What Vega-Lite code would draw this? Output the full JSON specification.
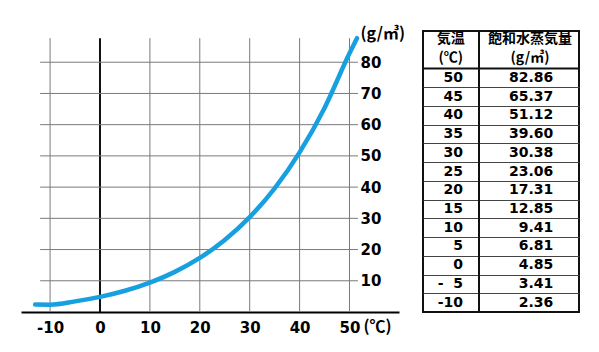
{
  "$schema": "https://vega.github.io/schema/vega-lite/v6.json",
  "background": "white",
  "autosize": {"type": "pad"},
  "padding": {"left": 21, "top": 25, "right": 0, "bottom": 0},
  "spacing": 24,
  "bounds": "flush",
  "config": {"view": {"stroke": null}, "font": "DejaVu Sans"},
  "datasets": {
    "table": [
      {"temp": 50, "label": "50", "sat": 82.86},
      {"temp": 45, "label": "45", "sat": 65.37},
      {"temp": 40, "label": "40", "sat": 51.12},
      {"temp": 35, "label": "35", "sat": 39.60},
      {"temp": 30, "label": "30", "sat": 30.38},
      {"temp": 25, "label": "25", "sat": 23.06},
      {"temp": 20, "label": "20", "sat": 17.31},
      {"temp": 15, "label": "15", "sat": 12.85},
      {"temp": 10, "label": "10", "sat": 9.41},
      {"temp": 5, "label": "5", "sat": 6.81},
      {"temp": 0, "label": "0", "sat": 4.85},
      {"temp": -5, "label": "-\u20075", "sat": 3.41},
      {"temp": -10, "label": "-10", "sat": 2.36}
    ],
    "header": [
      {"col": 17.8, "line": 60.4, "text": "気温"},
      {"col": 17.8, "line": 55.3, "text": "(℃)"},
      {"col": 68.6, "line": 60.4, "text": "飽和水蒸気量"},
      {"col": 68.6, "line": 55.3, "text": "(g/㎥)"}
    ],
    "curve": [
      {"temp": -13, "sat": 2.4},
      {"temp": -10, "sat": 2.36},
      {"temp": -5, "sat": 3.41},
      {"temp": 0, "sat": 4.85},
      {"temp": 5, "sat": 6.81},
      {"temp": 10, "sat": 9.41},
      {"temp": 15, "sat": 12.85},
      {"temp": 20, "sat": 17.31},
      {"temp": 25, "sat": 23.06},
      {"temp": 30, "sat": 30.38},
      {"temp": 35, "sat": 39.60},
      {"temp": 40, "sat": 51.12},
      {"temp": 45, "sat": 65.37},
      {"temp": 50, "sat": 82.86},
      {"temp": 51.5, "sat": 87.7}
    ],
    "xgrid": [{"t": -10}, {"t": 0}, {"t": 10}, {"t": 20}, {"t": 30}, {"t": 40}, {"t": 50}],
    "ygrid": [{"v": 10}, {"v": 20}, {"v": 30}, {"v": 40}, {"v": 50}, {"v": 60}, {"v": 70}, {"v": 80}],
    "one": [{"k": 1}]
  },
  "hconcat": [
    {
      "width": 378,
      "height": 281,
      "view": {"stroke": null},
      "layer": [
        {
          "data": {"name": "xgrid"},
          "mark": {"type": "rule"},
          "encoding": {
            "x": {
              "field": "t", "type": "quantitative",
              "scale": {"domain": [-15.83, 59.92], "nice": false, "zero": false},
              "axis": {
                "orient": "bottom", "values": [-10, 0, 10, 20, 30, 40, 50], "tickCount": 20,
                "labelExpr": "datum.value < 0 ? '-' + abs(datum.value) : datum.label",
                "grid": false, "ticks": false, "domain": true,
                "domainColor": "black", "domainWidth": 2,
                "labelFont": "DejaVu Sans", "labelFontSize": 15, "labelFontWeight": "bold",
                "labelColor": "black", "labelPadding": 8, "labelFlush": false,
                "title": null
              }
            },
            "y": {"datum": 0, "type": "quantitative"},
            "y2": {"datum": 87.7},
            "color": {"condition": {"test": "datum.t == 0", "value": "#111111"}, "value": "#7a7a7a"},
            "strokeWidth": {"condition": {"test": "datum.t == 0", "value": 2}, "value": 1}
          }
        },
        {
          "data": {"name": "ygrid"},
          "mark": {"type": "rule", "color": "#7a7a7a", "strokeWidth": 1},
          "encoding": {
            "y": {
              "field": "v", "type": "quantitative",
              "scale": {"domain": [0, 90], "nice": false, "zero": false},
              "axis": {
                "orient": "right", "offset": -41, "values": [10, 20, 30, 40, 50, 60, 70, 80], "tickCount": 20,
                "grid": false, "ticks": false, "domain": false,
                "labelFont": "DejaVu Sans", "labelFontSize": 15, "labelFontWeight": "bold",
                "labelColor": "black", "labelPadding": 2, "labelFlush": false, "labelBaseline": "middle",
                "title": "(g/㎥)", "titleAngle": 0, "titleX": 2, "titleY": 2,
                "titleAlign": "left", "titleBaseline": "middle",
                "titleFont": "Noto Sans CJK JP", "titleFontSize": 16, "titleFontWeight": "bold", "titleColor": "black"
              }
            },
            "x": {"datum": -12, "type": "quantitative"},
            "x2": {"datum": 51.7}
          }
        },
        {
          "data": {"name": "curve"},
          "mark": {"type": "line", "interpolate": "monotone", "color": "#17a0e0", "strokeWidth": 4.5, "strokeCap": "round"},
          "encoding": {
            "x": {"field": "temp", "type": "quantitative"},
            "y": {"field": "sat", "type": "quantitative"}
          }
        },
        {
          "data": {"name": "one"},
          "mark": {"type": "text", "align": "left", "baseline": "middle", "font": "Noto Sans CJK JP", "fontSize": 16, "fontWeight": "bold", "color": "black"},
          "encoding": {
            "x": {"datum": 52.8, "type": "quantitative"},
            "y": {"datum": -4.74, "type": "quantitative"},
            "text": {"value": "(℃)"}
          }
        }
      ]
    },
    {
      "width": 156,
      "height": 281,
      "view": {"stroke": "#111111", "strokeWidth": 2},
      "layer": [
        {
          "data": {"name": "table"},
          "mark": {"type": "text", "align": "right", "baseline": "middle", "font": "DejaVu Sans", "fontSize": 14, "fontWeight": "bold", "color": "black"},
          "encoding": {
            "x": {"datum": 25.6, "type": "quantitative", "scale": {"domain": [0, 100], "nice": false, "zero": false}, "axis": null},
            "y": {
              "field": "temp", "type": "quantitative",
              "scale": {"domain": [-12.5, 62.5], "nice": false, "zero": false},
              "axis": {
                "values": [-7.5, -2.5, 2.5, 7.5, 12.5, 17.5, 22.5, 27.5, 32.5, 37.5, 42.5, 47.5], "tickCount": 40,
                "grid": true, "gridColor": "#444444", "gridWidth": 1, "gridOpacity": 1,
                "labels": false, "ticks": false, "domain": false, "title": null
              }
            },
            "text": {"field": "label"}
          }
        },
        {
          "data": {"name": "table"},
          "mark": {"type": "text", "align": "right", "baseline": "middle", "font": "DejaVu Sans", "fontSize": 14, "fontWeight": "bold", "color": "black"},
          "encoding": {
            "x": {"datum": 83.5, "type": "quantitative"},
            "y": {"field": "temp", "type": "quantitative"},
            "text": {"field": "sat", "type": "quantitative", "format": ".2f"}
          }
        },
        {
          "data": {"name": "one"},
          "mark": {"type": "rule", "color": "#111111", "strokeWidth": 2},
          "encoding": {"y": {"datum": 52.5, "type": "quantitative"}}
        },
        {
          "data": {"name": "one"},
          "mark": {"type": "rule", "color": "#111111", "strokeWidth": 2},
          "encoding": {"x": {"datum": 35.9, "type": "quantitative"}}
        },
        {
          "data": {"name": "header"},
          "mark": {"type": "text", "align": "center", "baseline": "middle", "font": "Noto Sans CJK JP", "fontSize": 14, "fontWeight": "bold", "color": "black"},
          "encoding": {
            "x": {"field": "col", "type": "quantitative"},
            "y": {"field": "line", "type": "quantitative"},
            "text": {"field": "text"}
          }
        }
      ]
    }
  ]
}
